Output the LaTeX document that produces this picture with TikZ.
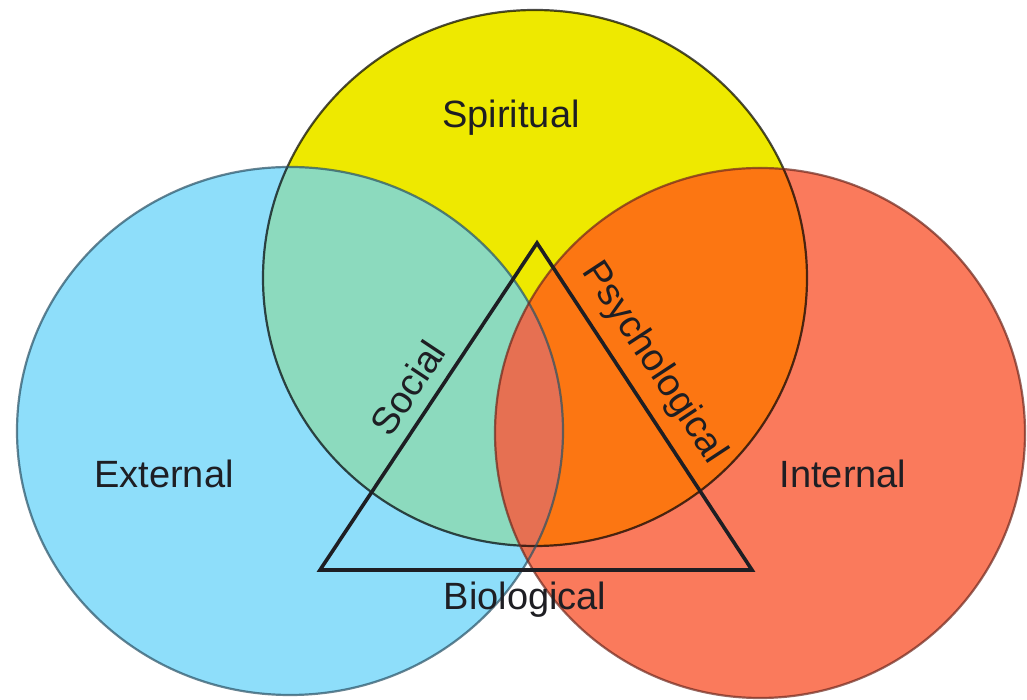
\documentclass[tikz,border=0pt]{standalone}
\usepackage{fontspec}
\setmainfont{Liberation Sans}
\usepackage{tikz}
\usetikzlibrary{positioning,calc}

\definecolor{spiritY}{RGB}{238,233,0}
\definecolor{externB}{RGB}{142,222,250}
\definecolor{internR}{RGB}{250,122,92}
\definecolor{socialG}{RGB}{140,218,190}
\definecolor{psychO}{RGB}{252,118,18}
\definecolor{bioR}{RGB}{230,112,82}
\definecolor{inkgray}{RGB}{30,30,35}

\newcommand{\spiritcirc}{(535,422) ellipse [x radius=272, y radius=268]}
\newcommand{\externcirc}{(290,269) ellipse [x radius=273, y radius=264]}
\newcommand{\interncirc}{(760,267) ellipse [x radius=265, y radius=265]}

\tikzset{
  rim/.style={line width=1.1pt, draw opacity=0.7},
  lbl/.style={font=\fontsize{19}{23}\selectfont, text=inkgray, inner sep=6pt},
  edgelbl/.style={lbl, sloped, above},
  tri/.style={draw=inkgray, line width=1.8pt, line join=miter},
}

\begin{document}
\begin{tikzpicture}[x=0.5pt,y=0.5pt]
  \useasboundingbox[fill=white] (0,0) rectangle (1027,700);

  % plain discs
  \fill[spiritY] \spiritcirc;
  \fill[externB] \externcirc;
  \fill[internR] \interncirc;

  % overlaps
  \begin{scope}
    \clip \spiritcirc;
    \fill[socialG] \externcirc;
    \fill[psychO] \interncirc;
  \end{scope}
  \begin{scope}
    \clip \externcirc;
    \fill[bioR] \interncirc;
  \end{scope}

  % outlines
  \draw[rim, draw=black] \spiritcirc;
  \draw[rim, draw={rgb,255:red,40;green,80;blue,100}] \externcirc;
  \draw[rim, draw={rgb,255:red,110;green,40;blue,30}] \interncirc;

  \node[lbl] (spiritual) at (511,582) {Spiritual};
  \node[lbl] (external)  at (164,226) {External};
  \node[lbl] (internal)  at (843,226) {Internal};
  \node[lbl] (biological) at (525,100) {Biological};

  \coordinate (apex) at (537,457);
  \coordinate (bl) at (320,130);
  \coordinate (br) at (752,130);

  \draw[tri] (bl) -- node[edgelbl, pos=0.51] (social) {Social}
             (apex) -- node[edgelbl, pos=0.42] (psych) {Psychological}
             (br) -- cycle;
\end{tikzpicture}
\end{document}
